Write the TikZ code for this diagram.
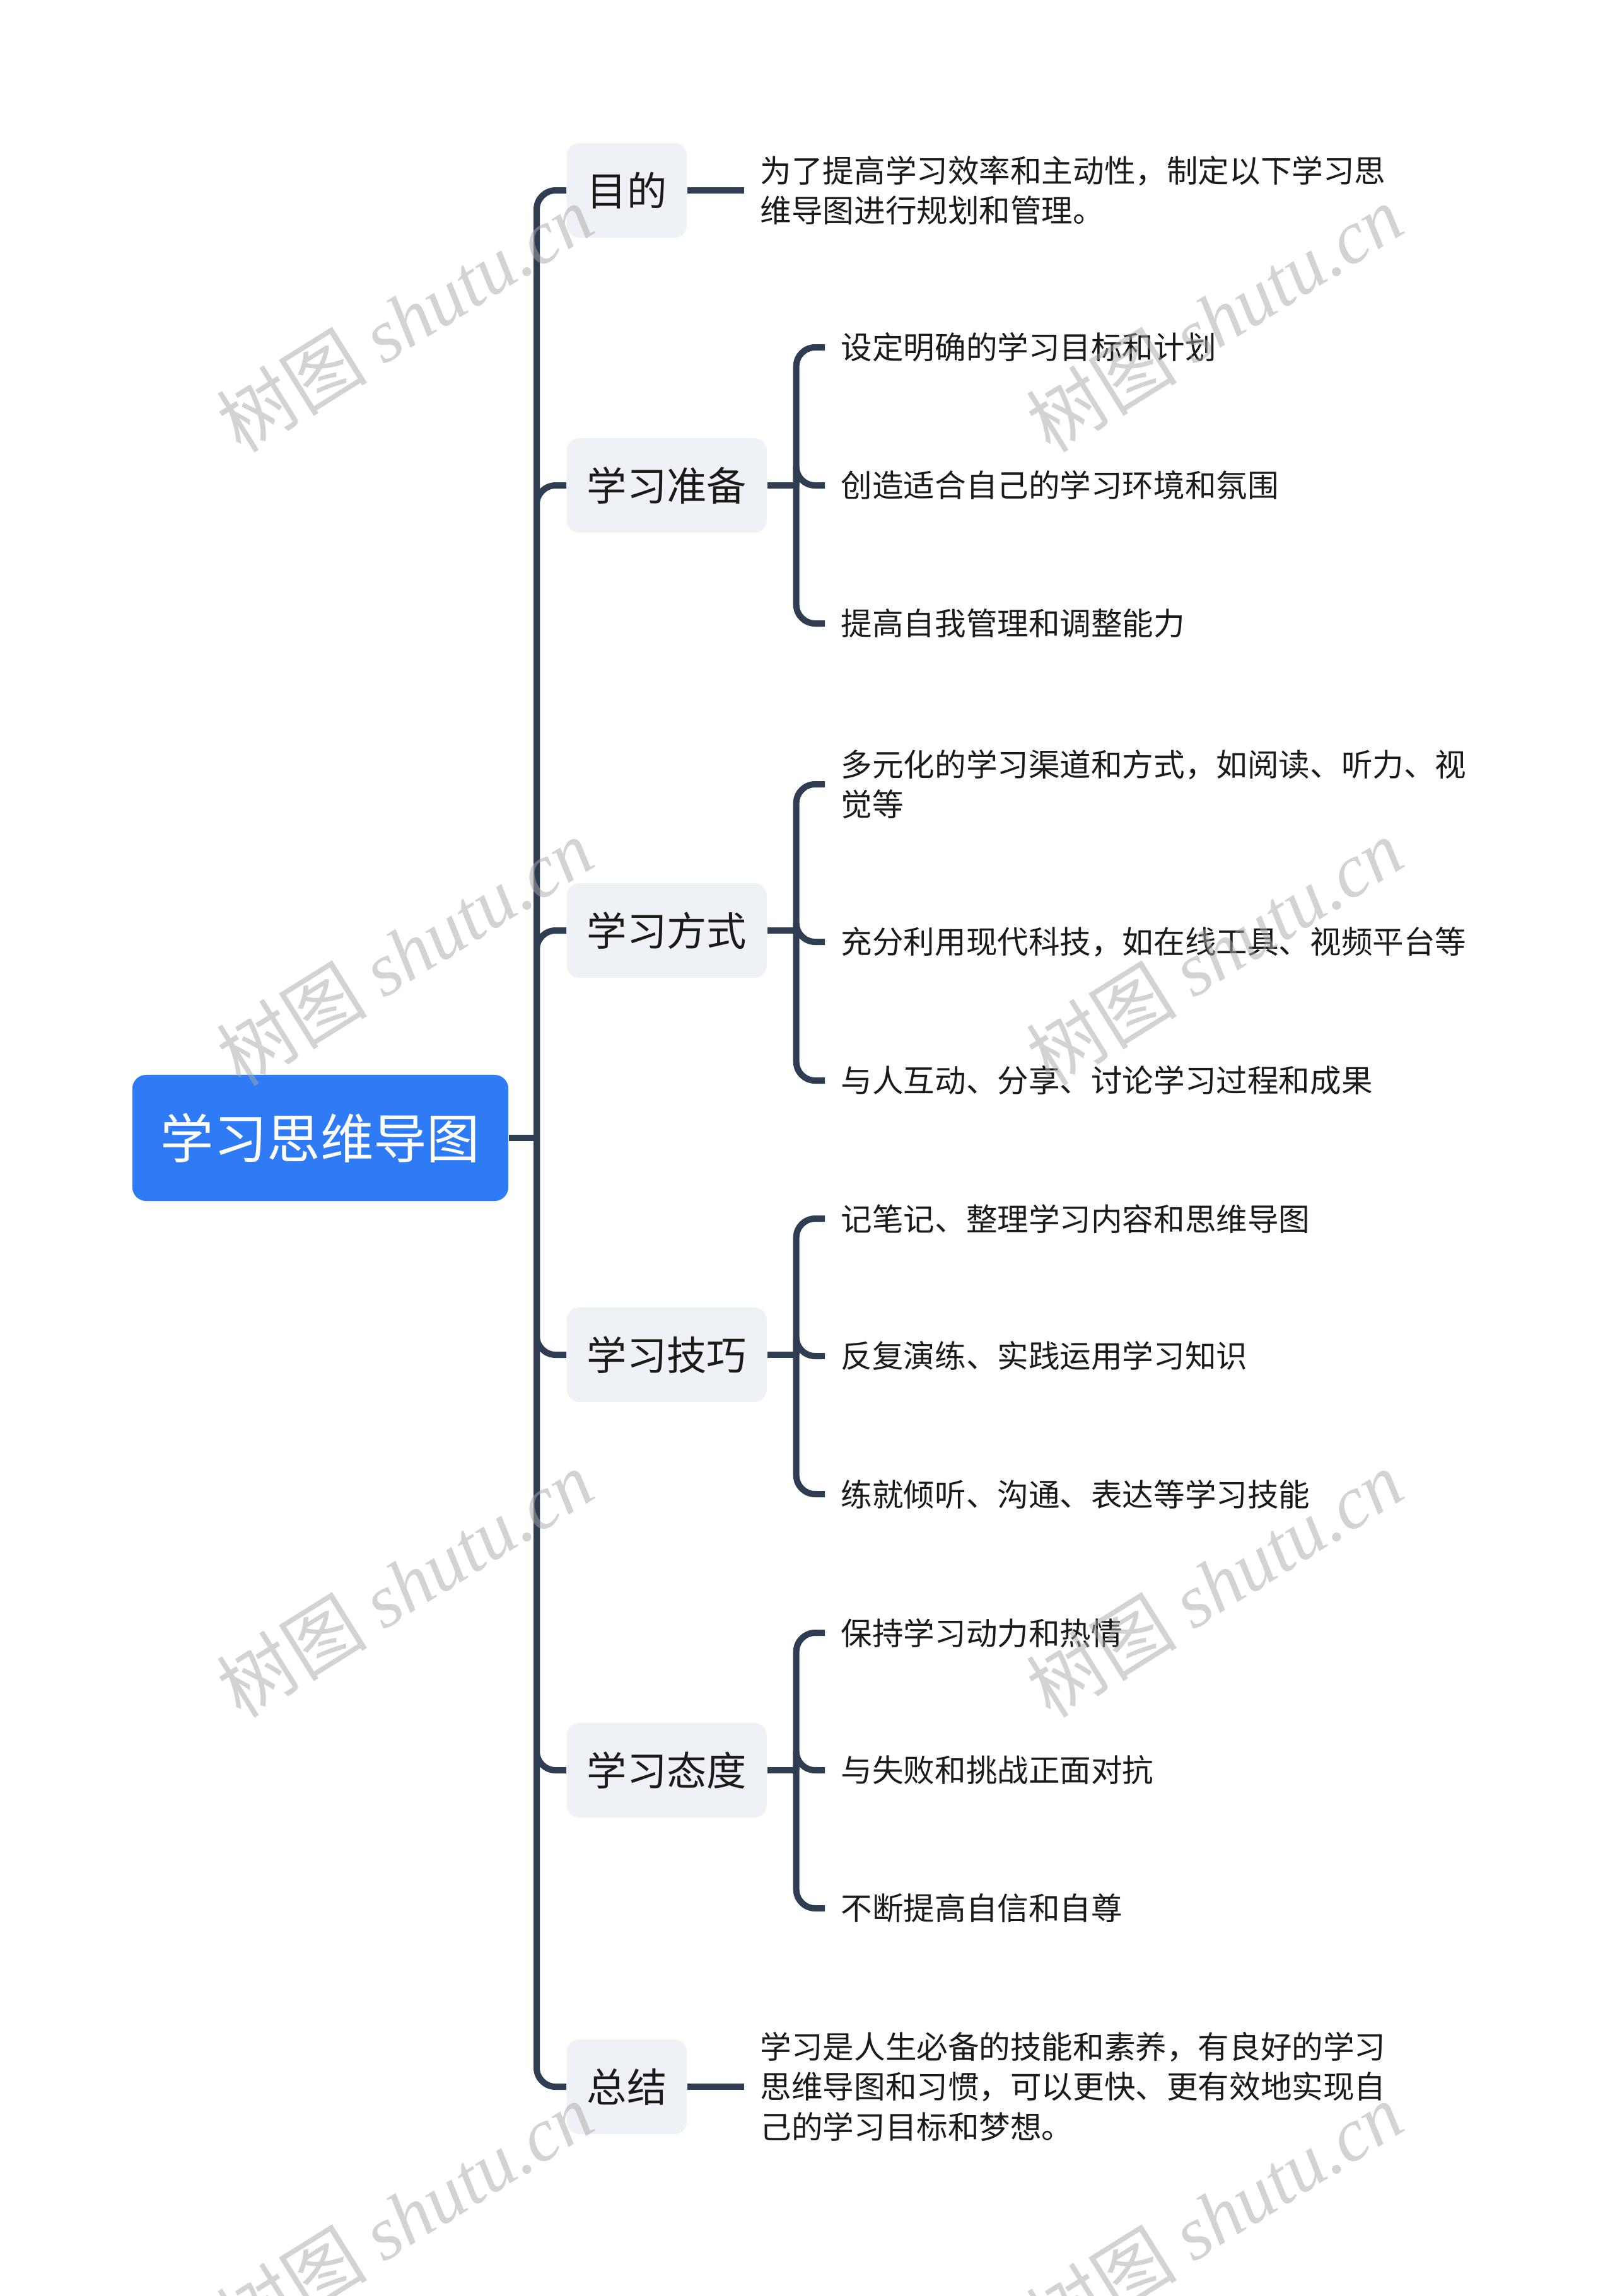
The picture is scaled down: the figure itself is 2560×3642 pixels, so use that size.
\documentclass[tikz,border=0pt]{standalone}
\usepackage{fontspec}
\setmainfont{Noto Sans CJK SC}
\newfontfamily\wmfont{Liberation Serif}
\usetikzlibrary{positioning}
\definecolor{MapBlue}{HTML}{2F7BF6}
\definecolor{MapNavy}{HTML}{2F3D53}
\definecolor{MapPale}{HTML}{EEF1F5}
\definecolor{MapInk}{HTML}{1A1A1A}
\definecolor{MapMark}{HTML}{A8A8A8}

\begin{document}
\begin{tikzpicture}[x=0.01cm,y=-0.01cm,
    rootbox/.style={fill=MapBlue, rounded corners=0.22cm, text=white,
      font=\fontsize{24}{28}\selectfont, minimum width=5.96cm, minimum height=2cm, inner sep=0pt},
    topicbox/.style={fill=MapPale, rounded corners=0.2cm, text=MapInk, anchor=west,
      font=\fontsize{18}{22}\selectfont, minimum height=1.5cm, inner xsep=0.32cm},
    leaftext/.style={text=MapInk, font=\fontsize{14.1}{18.1}\selectfont, align=left,
      anchor=west, inner xsep=0.25cm, inner ysep=0pt},
    link/.style={draw=MapNavy, line width=0.1cm, rounded corners=0.3cm},
    wmark/.style={text=MapMark, opacity=0.5, rotate=32, font=\fontsize{34}{40}\selectfont}]
            \useasboundingbox (0,0) rectangle (2560,3642);

            % Root and main topics
            \node[rootbox] (root) at (508,1805) {学习思维导图};
            \coordinate (hub) at (851,1805);

            \node[topicbox] (aim) at (898,302) {目的};
            \node[topicbox] (prep) at (898,770) {学习准备};
            \node[topicbox] (way) at (898,1476) {学习方式};
            \node[topicbox] (skill) at (898,2149) {学习技巧};
            \node[topicbox] (mood) at (898,2808) {学习态度};
            \node[topicbox] (sum) at (898,3310) {总结};

            \draw[link] (root.east) -- (hub);
            \foreach \t in {aim,prep,way,skill,mood,sum}
                \draw[link] (hub) |- (\t.west);

            % Single leaves
            \node[leaftext] (aimtxt) at (1180,302) {为了提高学习效率和主动性，制定以下学习思\\维导图进行规划和管理。};
            \node[leaftext] (sumtxt) at (1180,3310) {学习是人生必备的技能和素养，有良好的学习\\思维导图和习惯，可以更快、更有效地实现自\\己的学习目标和梦想。};
            \draw[link] (aim.east) -- (aimtxt.west);
            \draw[link] (sum.east) -- (sumtxt.west);

            % Sub hubs
            \coordinate[right=0.46cm of prep.east] (prephub);
            \coordinate[right=0.46cm of way.east] (wayhub);
            \coordinate[right=0.46cm of skill.east] (skillhub);
            \coordinate[right=0.46cm of mood.east] (moodhub);

            % Leaves
            \node[leaftext] (prep1) at (1308,551) {设定明确的学习目标和计划};
            \node[leaftext] (prep2) at (1308,770) {创造适合自己的学习环境和氛围};
            \node[leaftext] (prep3) at (1308,989) {提高自我管理和调整能力};

            \node[leaftext] (way1) at (1308,1244) {多元化的学习渠道和方式，如阅读、听力、视\\觉等};
            \node[leaftext] (way2) at (1308,1494) {充分利用现代科技，如在线工具、视频平台等};
            \node[leaftext] (way3) at (1308,1714) {与人互动、分享、讨论学习过程和成果};

            \node[leaftext] (skill1) at (1308,1933) {记笔记、整理学习内容和思维导图};
            \node[leaftext] (skill2) at (1308,2151) {反复演练、实践运用学习知识};
            \node[leaftext] (skill3) at (1308,2370) {练就倾听、沟通、表达等学习技能};

            \node[leaftext] (mood1) at (1308,2590) {保持学习动力和热情};
            \node[leaftext] (mood2) at (1308,2808) {与失败和挑战正面对抗};
            \node[leaftext] (mood3) at (1308,3027) {不断提高自信和自尊};

            \foreach \t in {prep,way,skill,mood} {
                \draw[link] (\t.east) -- (\t hub);
                \foreach \i in {1,2,3}
                    \draw[link] (\t hub) |- (\t\i.west);
            }

            % Watermarks
            \foreach \x in {642,1926}
                \foreach \y in {505,1510,2512,3515}
                    \node[wmark] (wm-\x-\y) at (\x,\y) {树图 {\wmfont\itshape shutu.cn}};
\end{tikzpicture}
\end{document}
